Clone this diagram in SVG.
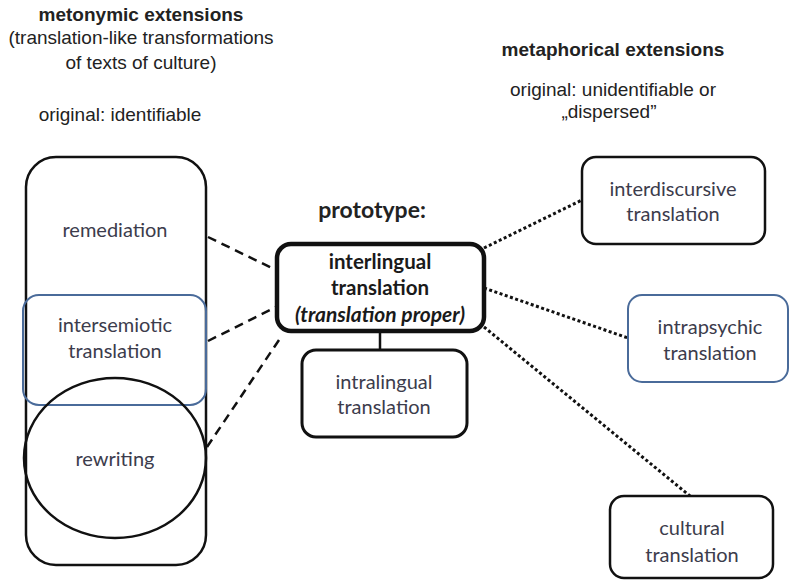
<svg xmlns="http://www.w3.org/2000/svg" width="790" height="584" viewBox="0 0 790 584">
<style>
.hdr{font-family:"Liberation Sans",Arial,sans-serif;font-size:19px;fill:#222;text-anchor:middle}
.hb{font-weight:bold}
.lbl{font-family:Lato,"Open Sans",sans-serif;font-size:20px;fill:#3c3c4c;text-anchor:middle}
.box{fill:#fff;stroke:#111;stroke-width:2.5}
.blue{fill:none;stroke:#4a6b9a;stroke-width:2}
.dash{fill:none;stroke:#111;stroke-width:2.5;stroke-dasharray:9,6}
.dot{fill:none;stroke:#111;stroke-width:3;stroke-dasharray:3,2.5}
</style>
<rect width="790" height="584" fill="#fff"/>
<g id="headers">
<text class="hdr hb" x="141" y="21">metonymic extensions</text>
<text class="hdr" x="141" y="44">(translation-like transformations</text>
<text class="hdr" x="141" y="69">of texts of culture)</text>
<text class="hdr" x="120" y="121">original: identifiable</text>
<text class="hdr hb" x="613" y="56">metaphorical extensions</text>
<text class="hdr" x="613" y="96">original: unidentifiable or</text>
<text class="hdr" x="609" y="118">„dispersed”</text>
<text x="372" y="218" style="font-family:Lato,'Open Sans',sans-serif;font-size:23px;font-weight:bold;fill:#222;text-anchor:middle">prototype:</text>
</g>
<g id="connectors">
<line class="dash" x1="208" y1="237" x2="276" y2="270"/>
<line class="dash" x1="208" y1="341" x2="276" y2="307"/>
<line class="dash" x1="207" y1="447" x2="281" y2="337"/>
<line x1="380" y1="332" x2="380" y2="350" stroke="#111" stroke-width="2.5"/>
<line class="dot" x1="484" y1="248" x2="582" y2="200"/>
<line class="dot" x1="484" y1="288" x2="628" y2="338"/>
<line class="dot" x1="484" y1="327" x2="690" y2="496"/>
</g>
<g id="metonymic-group">
<rect class="box" x="26" y="157" width="180" height="408" rx="30"/>
</g>
<g id="remediation">
<text class="lbl" x="115" y="237">remediation</text>
</g>
<g id="intersemiotic">
<rect class="blue" x="23" y="295" width="183" height="110" rx="16"/>
<text class="lbl" x="115" y="332">intersemiotic</text>
<text class="lbl" x="115" y="358">translation</text>
</g>
<g id="rewriting">
<ellipse cx="115" cy="458" rx="91" ry="80" fill="none" stroke="#111" stroke-width="2.5"/>
<text class="lbl" x="115" y="466">rewriting</text>
</g>
<g id="interlingual">
<rect x="277" y="244" width="207" height="87" rx="14" fill="#fff" stroke="#111" stroke-width="4.5"/>
<text class="lbl" x="380" y="269" style="font-weight:bold;font-size:20.5px;fill:#1a1a1a">interlingual</text>
<text class="lbl" x="380" y="295" style="font-weight:bold;font-size:20.5px;fill:#1a1a1a">translation</text>
<text class="lbl" x="380" y="322" style="font-weight:bold;font-style:italic;font-size:21px;fill:#1a1a1a">(translation proper)</text>
</g>
<g id="intralingual">
<rect x="302" y="350" width="165" height="87" rx="14" fill="#fff" stroke="#111" stroke-width="3"/>
<text class="lbl" x="384" y="389">intralingual</text>
<text class="lbl" x="384" y="414">translation</text>
</g>
<g id="interdiscursive">
<rect class="box" x="582" y="157" width="183" height="87" rx="14"/>
<text class="lbl" x="673" y="196">interdiscursive</text>
<text class="lbl" x="673" y="221">translation</text>
</g>
<g id="intrapsychic">
<rect x="628" y="295" width="160" height="87" rx="14" fill="#fff" stroke="#4a6b9a" stroke-width="2"/>
<text class="lbl" x="710" y="334">intrapsychic</text>
<text class="lbl" x="710" y="360">translation</text>
</g>
<g id="cultural">
<rect class="box" x="610" y="496" width="163" height="82" rx="14"/>
<text class="lbl" x="692" y="535">cultural</text>
<text class="lbl" x="692" y="562">translation</text>
</g>
</svg>
